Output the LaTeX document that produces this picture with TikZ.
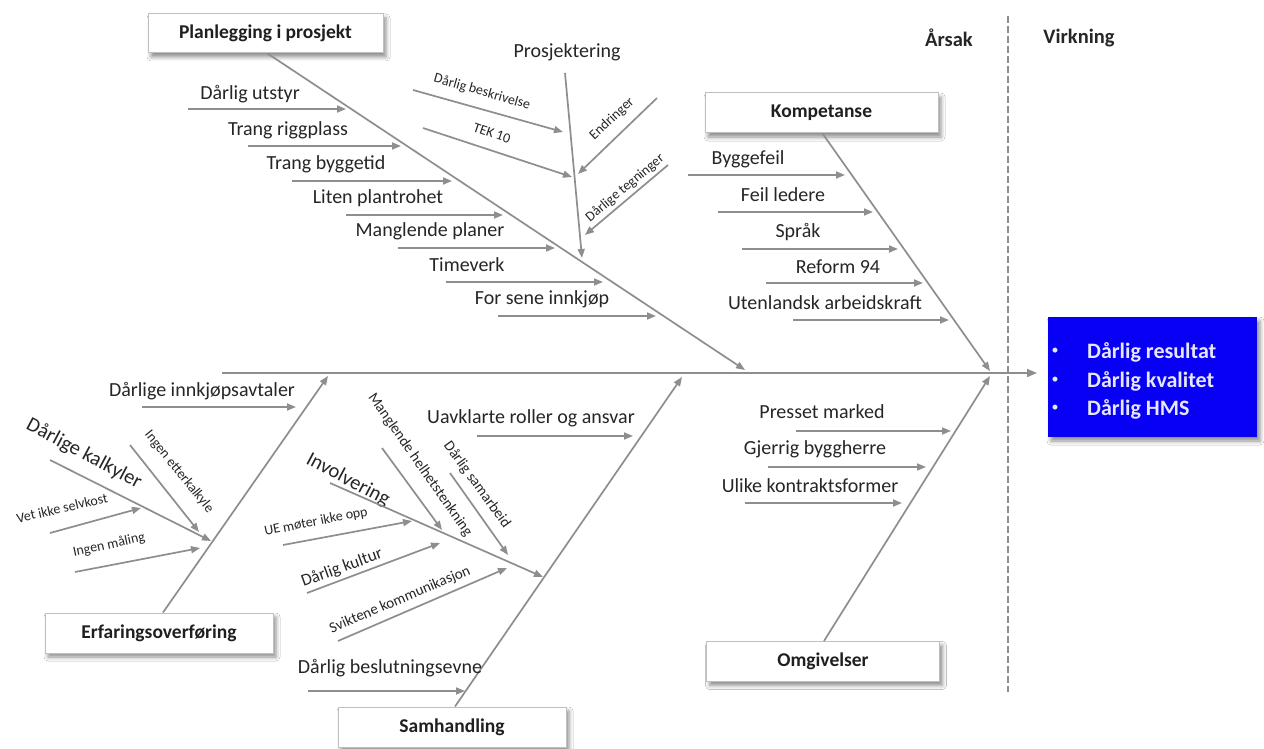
\documentclass[tikz,border=0pt]{standalone}
\usepackage{fontspec}
\setmainfont{Carlito}
\usetikzlibrary{arrows.meta,shadows.blur}

\definecolor{bone}{HTML}{8E8E8E}
\definecolor{ink}{HTML}{262626}
\definecolor{effectblue}{HTML}{0800F4}
\definecolor{efftext}{HTML}{E6E6FF}

\tikzset{
  cause/.style={draw=bone, line width=1.7pt, -{Triangle[length=9pt,width=7pt]}},
  lbl/.style={text=ink, font=\fontsize{20}{22}\selectfont, inner sep=0pt},
  slbl/.style={text=ink, font=\fontsize{14}{16}\selectfont, inner sep=0pt},
  mlbl/.style={text=ink, font=\fontsize{15}{17}\selectfont, inner sep=0pt},
  biglbl/.style={text=ink, font=\fontsize{20.5}{22}\selectfont, inner sep=0pt},
  catbox/.style={draw=black!25, fill=white, line width=1pt, text=black!88,
    font=\bfseries\fontsize{19.5}{22}\selectfont,
    minimum width=233pt, minimum height=40pt,
    blur shadow={shadow xshift=3pt, shadow yshift=-4pt, shadow blur radius=4pt, shadow opacity=45}},
  head/.style={text=ink, font=\bfseries\fontsize{20.5}{22}\selectfont, inner sep=0pt},
  efflbl/.style={text=efftext, font=\bfseries\fontsize{22}{24}\selectfont, inner sep=0pt, anchor=west},
  effdot/.style={text=efftext, font=\fontsize{14}{16}\selectfont, inner sep=0pt},
  divider/.style={draw=bone, line width=1.8pt, dash pattern=on 7pt off 3pt},
}

\begin{document}
\begin{tikzpicture}[x=1pt, y=-1pt]
  \useasboundingbox[fill=white] (0,0) rectangle (1264,749);

  % ---------- headings and divider ----------
  \node[head] (arsak) at (949,38) {Årsak};
  \node[head] (virkning) at (1079,38) {Virkning};
  \coordinate (divtop) at (1008,16);
  \coordinate (divbot) at (1008,692);
  \draw[divider] (divtop) -- (divbot);

  % ---------- spine ----------
  \coordinate (spineL) at (222,373);
  \coordinate (spineR) at (1037,373);
  \draw[cause, -{Triangle[length=10pt,width=8pt]}] (spineL) -- (spineR);

  % ---------- effect ----------
  \node[fill=effectblue, minimum width=209pt, minimum height=120pt,
        blur shadow={shadow xshift=3pt, shadow yshift=-4pt, shadow blur radius=4pt, shadow opacity=45}]
        (eff) at (1152.5,377) {};
  \foreach \i/\yy/\t in {1/352/Dårlig resultat, 2/381/Dårlig kvalitet, 3/409/Dårlig HMS}{
    \node[effdot] (effb\i) at (1055,\yy-1) {•};
    \node[efflbl] (efft\i) at (1087,\yy) {\t};
  }

  % ---------- category boxes ----------
  \node[catbox, minimum width=235pt, minimum height=39pt] (plan) at (265.5,33.5) {Planlegging i prosjekt};
  \node[catbox] (komp) at (821.5,113) {Kompetanse};
  \node[catbox] (omg) at (823,661.5) {Omgivelser};
  \node[catbox, minimum width=228pt] (erf) at (159,633) {Erfaringsoverføring};
  \node[catbox, minimum width=228pt] (sam) at (452,727) {Samhandling};

  % ---------- main bones ----------
  \coordinate (planE) at (745,370);
  \coordinate (kompE) at (990,371);
  \coordinate (omgE) at (990,376);
  \coordinate (erfE) at (328,376);
  \coordinate (samE) at (682,377);
  \draw[cause] ([xshift=2pt]plan.south) -- (planE);
  \draw[cause] ([xshift=1pt]komp.south) -- (kompE);
  \draw[cause] ([xshift=1pt]omg.north) -- (omgE);
  \draw[cause] ([xshift=4pt]erf.north) -- (erfE);
  \draw[cause] ([xshift=3pt]sam.north) -- (samE);

  % ---------- Planlegging i prosjekt ----------
  \foreach \n/\sx/\ex/\ay/\lx/\ly/\t in {
      1/188/346/109/250/94/Dårlig utstyr,
      2/248/401/146/288/130/Trang riggplass,
      3/292/452/181/326/164/Trang byggetid,
      4/346/503/215/378/198/Liten plantrohet,
      5/398/555/248/430/231/Manglende planer,
      6/446/603/282/467/265/Timeverk,
      7/498/656/316/542/299/For sene innkjøp}{
    \node[lbl] (pl\n) at (\lx,\ly) {\t};
    \coordinate (pls\n) at (\sx,\ay);
    \coordinate (ple\n) at (\ex,\ay);
    \draw[cause] (pls\n) -- (ple\n);
  }

  % Prosjektering sub-branch
  \node[lbl] (proj) at (567,52) {Prosjektering};
  \coordinate (projS) at (565,73);
  \coordinate (projE) at (582,258);
  \draw[cause] (projS) -- (projE);

  \node[slbl, rotate=-16] (besk) at (482,92) {Dårlig beskrivelse};
  \coordinate (beskS) at (413,90);
  \coordinate (beskE) at (563,132);
  \draw[cause] (beskS) -- (beskE);

  \node[slbl, rotate=-19] (tek) at (492,133) {TEK 10};
  \coordinate (tekS) at (423,128);
  \coordinate (tekE) at (572,177);
  \draw[cause] (tekS) -- (tekE);

  \node[slbl, rotate=43] (endr) at (612,119) {Endringer};
  \coordinate (endrS) at (657,98);
  \coordinate (endrE) at (578,174);
  \draw[cause] (endrS) -- (endrE);

  \node[slbl, rotate=40] (tegn) at (625,188) {Dårlige tegninger};
  \coordinate (tegnS) at (668,165);
  \coordinate (tegnE) at (585,235);
  \draw[cause] (tegnS) -- (tegnE);

  % ---------- Kompetanse ----------
  \foreach \n/\sx/\ex/\ay/\lx/\ly/\t in {
      1/688/845/175/748/159/Byggefeil,
      2/718/873/212/783/195/Feil ledere,
      3/742/898/249/798/232/Språk,
      4/766/923/283/838/267/Reform 94,
      5/793/949/320/825/303/Utenlandsk arbeidskraft}{
    \node[lbl] (ko\n) at (\lx,\ly) {\t};
    \coordinate (kos\n) at (\sx,\ay);
    \coordinate (koe\n) at (\ex,\ay);
    \draw[cause] (kos\n) -- (koe\n);
  }

  % ---------- Omgivelser ----------
  \foreach \n/\sx/\ex/\ay/\lx/\ly/\t in {
      1/796/951/431/822/412/Presset marked,
      2/768/926/467/815/449/Gjerrig byggherre,
      3/745/902/503/810/486/Ulike kontraktsformer}{
    \node[lbl] (om\n) at (\lx,\ly) {\t};
    \coordinate (oms\n) at (\sx,\ay);
    \coordinate (ome\n) at (\ex,\ay);
    \draw[cause] (oms\n) -- (ome\n);
  }

  % ---------- Erfaringsoverføring ----------
  \node[lbl] (innk) at (202,391) {Dårlige innkjøpsavtaler};
  \coordinate (innkS) at (142,407);
  \coordinate (innkE) at (296,407);
  \draw[cause] (innkS) -- (innkE);

  \node[biglbl, rotate=-28] (kalk) at (84,454) {Dårlige kalkyler};
  \coordinate (kalkS) at (50,460);
  \coordinate (kalkE) at (211,541);
  \draw[cause] (kalkS) -- (kalkE);

  \node[slbl, rotate=-51] (etter) at (179,472) {Ingen etterkalkyle};
  \coordinate (etterS) at (130,445);
  \coordinate (etterE) at (199,532);
  \draw[cause] (etterS) -- (etterE);

  \node[slbl, rotate=13] (selv) at (62,508) {Vet ikke selvkost};
  \coordinate (selvS) at (50,533);
  \coordinate (selvE) at (141,508);
  \draw[cause] (selvS) -- (selvE);

  \node[slbl, rotate=12] (maal) at (109,545) {Ingen måling};
  \coordinate (maalS) at (75,572);
  \coordinate (maalE) at (200,548);
  \draw[cause] (maalS) -- (maalE);

  % ---------- Samhandling ----------
  \node[lbl] (uavk) at (531,418) {Uavklarte roller og ansvar};
  \coordinate (uavkS) at (477,436);
  \coordinate (uavkE) at (633,436);
  \draw[cause] (uavkS) -- (uavkE);

  \node[biglbl, rotate=-28] (invo) at (348,480) {Involvering};
  \coordinate (invoS) at (330,483);
  \coordinate (invoE) at (543,577);
  \draw[cause] (invoS) -- (invoE);

  \node[mlbl, rotate=-55] (helh) at (420,465) {Manglende helhetstenkning};
  \coordinate (helhS) at (382,448);
  \coordinate (helhE) at (442,530);
  \draw[cause] (helhS) -- (helhE);

  \node[mlbl, rotate=-54] (samb) at (477,485) {Dårlig samarbeid};
  \coordinate (sambS) at (450,473);
  \coordinate (sambE) at (508,555);
  \draw[cause] (sambS) -- (sambE);

  \node[slbl, rotate=11] (ue) at (316,522) {UE møter ikke opp};
  \coordinate (ueS) at (283,545);
  \coordinate (ueE) at (412,521);
  \draw[cause] (ueS) -- (ueE);

  \node[biglbl, font=\fontsize{17}{19}\selectfont, rotate=20] (kult) at (342,568) {Dårlig kultur};
  \coordinate (kultS) at (307,593);
  \coordinate (kultE) at (440,543);
  \draw[cause] (kultS) -- (kultE);

  \node[mlbl, rotate=23] (komm) at (400,600) {Sviktene kommunikasjon};
  \coordinate (kommS) at (338,641);
  \coordinate (kommE) at (507,568);
  \draw[cause] (kommS) -- (kommE);

  \node[lbl] (besl) at (390,668) {Dårlig beslutningsevne};
  \coordinate (beslS) at (308,691);
  \coordinate (beslE) at (465,691);
  \draw[cause] (beslS) -- (beslE);
\end{tikzpicture}
\end{document}
